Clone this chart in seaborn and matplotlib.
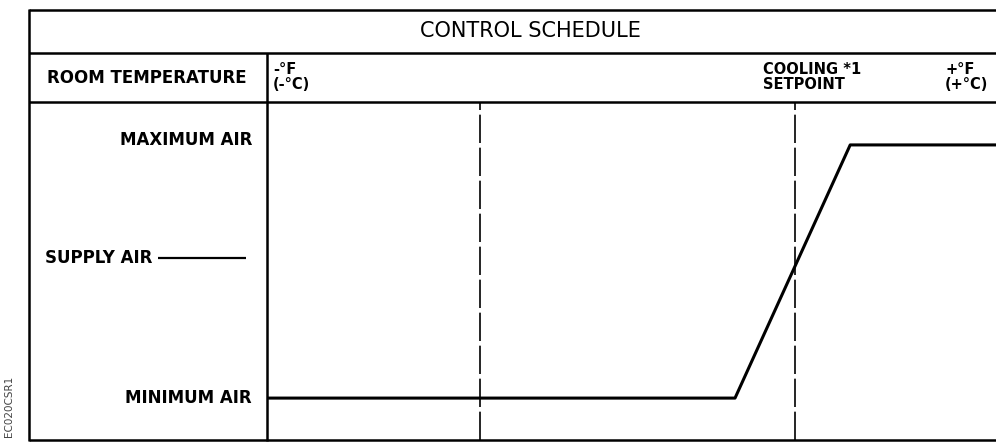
import matplotlib
matplotlib.use("Agg")
import matplotlib.pyplot as plt
from matplotlib.lines import Line2D
import seaborn as sns
import pandas as pd

# ---- data ----
temperature = [0.0, 64.2, 80.0, 100.0]        # relative room temperature (x)
airflow = [12.4, 12.4, 87.3, 87.3]            # relative supply air (y)
dashed_marks = [29.2, 72.4]                   # vertical reference temperatures
supply_air_level = 53.8
row_labels = ["MAXIMUM AIR", "SUPPLY AIR", "MINIMUM AIR"]
header_title = "CONTROL SCHEDULE"
col_header = "ROOM TEMPERATURE"
low_label = "-°F\n(-°C)"
setpoint_label = "COOLING *1\nSETPOINT"
high_label = "+°F\n(+°C)"
code_label = "EC020CSR1"

sns.set_theme(style="white")
plt.rcParams['font.family'] = ['DejaVu Sans']
plt.rcParams['text.color'] = 'black'

W, H = 996, 442
fig = plt.figure(figsize=(W / 100, H / 100), dpi=100)
fig.patch.set_facecolor("white")


def fx(x):
    return x / W


def fy(y):
    return 1 - y / H


def fline(x0, y0, x1, y1, lw=1.8, **kw):
    fig.add_artist(Line2D([fx(x0), fx(x1)], [fy(y0), fy(y1)], transform=fig.transFigure,
                          color="black", lw=lw, solid_capstyle="butt", **kw))


# plot area axes
L, R, T, B = 267, 996, 102, 440
ax = fig.add_axes([fx(L), fy(B), fx(R) - fx(L), fy(T) - fy(B)])
ax.set_xlim(0, 100)
ax.set_ylim(0, 100)
for s in ax.spines.values():
    s.set_visible(False)
ax.set_xticks([])
ax.set_yticks([])
ax.set_facecolor("none")

for xv in dashed_marks:
    ax.axvline(xv, color="black", lw=1.2, dashes=(17, 2.8))

df = pd.DataFrame({"temp": temperature, "air": airflow})
sns.lineplot(data=df, x="temp", y="air", ax=ax, color="black", lw=2.2,
             sort=False, estimator=None)
ax.set_xlabel("")
ax.set_ylabel("")

# frame
fline(29, 10, 996, 10)
fline(29, 53, 996, 53)
fline(29, 102, 996, 102)
fline(29, 440, 996, 440)
fline(29, 9.1, 29, 440.9)
fline(267, 53, 267, 440.9)

# supply air pointer
y_sup = ax.transData.transform((0, supply_air_level))[1]
y_sup_px = H - y_sup
fline(158, y_sup_px, 246, y_sup_px, lw=1.6)

bold = dict(fontweight="bold", fontsize=12, color="black")
small = dict(fontweight="bold", fontsize=10.5, color="black", linespacing=1.05)
fig.text(fx(530), fy(31), header_title, ha="center", va="center", fontsize=15,
         color="black")
fig.text(fx(147), fy(78), col_header, ha="center", va="center", **bold)
fig.text(fx(273), fy(77), low_label, ha="left", va="center", **small)
fig.text(fx(763), fy(77), setpoint_label, ha="left", va="center", **small)
fig.text(fx(945), fy(77), high_label, ha="left", va="center", **small)

y_max_px = H - ax.transData.transform((0, airflow[-1]))[1]
y_min_px = H - ax.transData.transform((0, airflow[0]))[1]
fig.text(fx(252), fy(y_max_px - 5), row_labels[0], ha="right", va="center", **bold)
fig.text(fx(45), fy(y_sup_px), row_labels[1], ha="left", va="center", **bold)
fig.text(fx(252), fy(y_min_px), row_labels[2], ha="right", va="center", **bold)

fig.text(fx(9), fy(406), code_label, rotation=90, ha="center", va="center",
         fontsize=7.5, color="#444444")

fig.savefig("out.png", dpi=100, facecolor="white")
